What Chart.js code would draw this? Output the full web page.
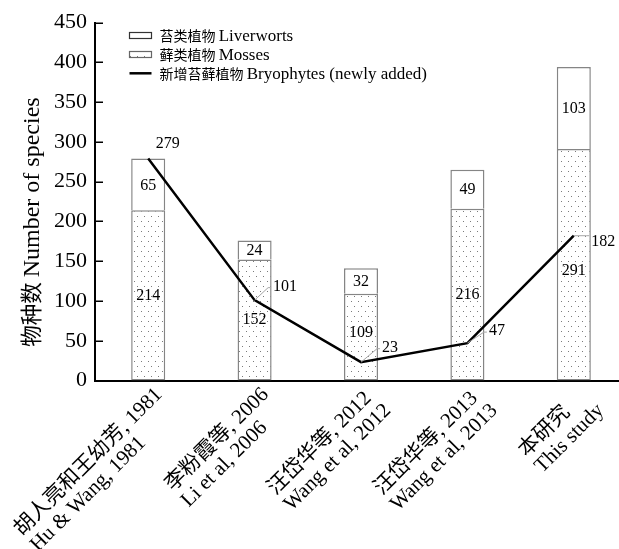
<!DOCTYPE html>
<html>
<head>
<meta charset="utf-8">
<title>Bryophyte species</title>
<script src="https://cdn.jsdelivr.net/npm/chart.js@4.4.1/dist/chart.umd.min.js"></script>
<style>
html, body { margin:0; padding:0; background:#fff; overflow:hidden; width:619px; height:549px; }
canvas { display:block; }
</style>
</head>
<body>
<canvas id="chart" width="627" height="549"></canvas>
<script>
// ---------------- data ----------------
const categoriesCN = ['胡人亮和王幼芳, 1981', '李粉霞等, 2006', '汪岱华等, 2012', '汪岱华等, 2013', '本研究'];
const categoriesEN = ['Hu & Wang, 1981', 'Li et al, 2006', 'Wang et al, 2012', 'Wang et al, 2013', 'This study'];
const mosses      = [214, 152, 109, 216, 291];
const liverworts  = [65, 24, 32, 49, 103];
const newlyAdded  = [279, 101, 23, 47, 182];
const seriesCN = ['苔类植物', '藓类植物', '新增苔藓植物'];
const seriesEN = ['Liverworts', 'Mosses', 'Bryophytes (newly added)'];
const yTitleCN = '物种数';
const yTitleEN = 'Number of species';
const yMin = 0, yMax = 450, yStep = 50;

// ---------------- styles ----------------
const SERIF = "'Liberation Serif', 'Times New Roman', serif";
const CJK   = "'Noto Sans CJK SC', 'Noto Sans CJK JP', sans-serif";
const MIXED = "'Liberation Serif', 'Noto Sans CJK SC', serif";
const BAR_BORDER = '#858585';

const canvas = document.getElementById('chart');
const ctx0 = canvas.getContext('2d');

function makeDots() {
  const t = document.createElement('canvas');
  t.width = 7; t.height = 10;
  const g = t.getContext('2d');
  g.fillStyle = '#ffffff'; g.fillRect(0, 0, 7, 10);
  g.fillStyle = '#7a7a7a';
  g.fillRect(1, 1, 1, 1);
  g.fillRect(4, 6, 1, 1);
  return ctx0.createPattern(t, 'repeat');
}
const dots = makeDots();

function richText(ctx, x, y, parts) {
  let cx = x;
  for (const [t, f] of parts) { ctx.font = f; ctx.fillText(t, cx, y); cx += ctx.measureText(t).width; }
  return cx - x;
}
function richWidth(ctx, parts) {
  let w = 0;
  for (const [t, f] of parts) { ctx.font = f; w += ctx.measureText(t).width; }
  return w;
}

// label nudges (relative to the points computed by the scales)
const mossLabelNudge = [0, 0, -4, 0, 6];
const lineLabelNudge = [ // dx to label left, dy to label middle, leader?
  [7.5, -15, false],
  [18.5, -13.5, true],
  [21, -14.5, true],
  [21.5, -12, true],
  [17.5, 6.5, true]
];

const decor = {
  id: 'decor',
  afterDraw(chart) {
    const ctx = chart.ctx;
    const area = chart.chartArea;
    const ys = chart.scales.y;
    const xs = chart.scales.x;
    ctx.save();

    // inward y ticks
    ctx.strokeStyle = '#000'; ctx.lineWidth = 1.5;
    ys.ticks.forEach(t => {
      const py = Math.round(ys.getPixelForValue(t.value)) + 0.25;
      ctx.beginPath(); ctx.moveTo(area.left, py); ctx.lineTo(area.left + 8, py); ctx.stroke();
    });

    // bar value labels
    ctx.fillStyle = '#000';
    ctx.font = '16px ' + SERIF;
    ctx.textAlign = 'center'; ctx.textBaseline = 'middle';
    const mMeta = chart.getDatasetMeta(0), lMeta = chart.getDatasetMeta(1);
    mMeta.data.forEach((el, i) => {
      const p = el.getProps(['x', 'y', 'base'], true);
      ctx.fillText(String(mosses[i]), p.x, (p.y + p.base) / 2 + mossLabelNudge[i]);
    });
    lMeta.data.forEach((el, i) => {
      const p = el.getProps(['x', 'y', 'base'], true);
      ctx.fillText(String(liverworts[i]), p.x, (p.y + p.base) / 2 + 1);
    });

    // line labels with leader lines
    const lnMeta = chart.getDatasetMeta(2);
    ctx.textAlign = 'left';
    lnMeta.data.forEach((el, i) => {
      const [dx, dy, lead] = lineLabelNudge[i];
      const lx = el.x + dx, ly = el.y + dy;
      if (lead) {
        const ey = (i === 4) ? el.y : ly + 1;
        ctx.strokeStyle = '#a6a6a6'; ctx.lineWidth = 1;
        ctx.beginPath();
        ctx.moveTo(el.x, el.y);
        ctx.lineTo(lx - 5, ey);
        ctx.lineTo(lx - 2, ey);
        ctx.stroke();
      }
      ctx.fillStyle = '#000';
      ctx.fillText(String(newlyAdded[i]), lx, ly);
    });

    // rotated category labels (lines left-aligned, block ends at the category)
    ctx.font = '21px ' + MIXED;
    ctx.textAlign = 'left'; ctx.textBaseline = 'alphabetic';
    categoriesCN.forEach((cn, i) => {
      const lines = [cn, categoriesEN[i]];
      const widths = lines.map(l => ctx.measureText(l).width);
      const maxW = Math.max(...widths);
      const px = xs.getPixelForValue(i);
      ctx.save();
      ctx.translate(px, area.bottom);
      ctx.rotate(-Math.PI / 4);
      lines.forEach((l, k) => ctx.fillText(l, -maxW, 21 + k * 22.5));
      ctx.restore();
    });

    // y-axis title
    const tParts = [[yTitleCN + ' ', '21.5px ' + CJK], [yTitleEN, '24px ' + SERIF]];
    const tw = richWidth(ctx, tParts);
    ctx.save();
    ctx.translate(31, 222);
    ctx.rotate(-Math.PI / 2);
    ctx.fillStyle = '#000';
    ctx.textBaseline = 'alphabetic'; ctx.textAlign = 'left';
    richText(ctx, -tw / 2, 8, tParts);
    ctx.restore();

    // legend
    const lx0 = area.left + 34.5, boxW = 22, boxH = 6;
    const rows = [area.top + 13, area.top + 32, area.top + 50.8];
    ctx.textAlign = 'left'; ctx.textBaseline = 'alphabetic';
    rows.forEach((cy, k) => {
      if (k < 2) {
        ctx.fillStyle = k === 0 ? '#fff' : dots;
        ctx.fillRect(lx0, cy - boxH / 2, boxW, boxH);
        ctx.strokeStyle = k === 0 ? '#333' : '#666'; ctx.lineWidth = 1.2;
        ctx.strokeRect(lx0, cy - boxH / 2, boxW, boxH);
      } else {
        ctx.strokeStyle = '#000'; ctx.lineWidth = 2.5;
        ctx.beginPath(); ctx.moveTo(lx0, cy); ctx.lineTo(lx0 + boxW, cy); ctx.stroke();
      }
      ctx.fillStyle = '#000';
      richText(ctx, lx0 + 30, cy + 5.5, [[seriesCN[k] + ' ', '14px ' + CJK], [seriesEN[k], '17px ' + SERIF]]);
    });

    ctx.restore();
  }
};

new Chart(canvas, {
  data: {
    labels: categoriesCN.map((c, i) => [c, categoriesEN[i]]),
    datasets: [
      {
        type: 'bar', label: seriesCN[1] + ' ' + seriesEN[1], data: mosses, stack: 'bars', order: 1,
        backgroundColor: dots, borderColor: BAR_BORDER, borderWidth: 1.5, borderSkipped: false,
        categoryPercentage: 1, barPercentage: 0.32
      },
      {
        type: 'bar', label: seriesCN[0] + ' ' + seriesEN[0], data: liverworts, stack: 'bars', order: 1,
        backgroundColor: '#ffffff', borderColor: BAR_BORDER, borderWidth: 1.5, borderSkipped: 'start',
        categoryPercentage: 1, barPercentage: 0.32
      },
      {
        type: 'line', label: seriesCN[2] + ' ' + seriesEN[2], data: newlyAdded, stack: 'line', order: 0,
        borderColor: '#000', borderWidth: 2.5, pointRadius: 0, tension: 0, fill: false
      }
    ]
  },
  options: {
    responsive: false,
    devicePixelRatio: 1,
    animation: false,
    events: [],
    layout: { padding: { top: 22.5, right: 0, bottom: 0, left: 0 } },
    plugins: { legend: { display: false }, tooltip: { enabled: false } },
    scales: {
      x: {
        stacked: true, offset: true,
        grid: { display: false, drawTicks: false },
        ticks: { display: false },
        border: { display: true, color: '#000', width: 2 },
        afterFit(s) { s.height = 168.5; }
      },
      y: {
        stacked: true, min: yMin, max: yMax,
        ticks: { stepSize: yStep, color: '#000', padding: 8, font: { family: SERIF, size: 22 } },
        grid: { display: false, drawTicks: false },
        border: { display: true, color: '#000', width: 2 },
        afterFit(s) { s.width = 95; }
      }
    }
  },
  plugins: [decor]
});
</script>
</body>
</html>
